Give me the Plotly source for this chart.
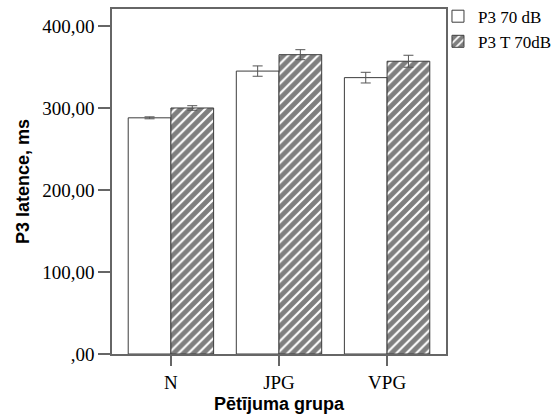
import plotly.graph_objects as go

# P3 latency (ms) by study group, two stimulus conditions, mean ± error
groups = ["N", "JPG", "VPG"]
p3_70 = [288, 345, 337]
p3_70_err = [1.2, 6.3, 6.5]
p3_t70 = [300, 365, 357]
p3_t70_err = [2.8, 6.1, 7.3]

y_tickvals = [0, 100, 200, 300, 400]
y_ticktext = [",00", "100,00", "200,00", "300,00", "400,00"]

serif = "Liberation Serif, Times New Roman, serif"
sans = "Liberation Sans, Arial, sans-serif"
edge = "#3c3c3c"
axis_col = "#666666"

fig = go.Figure()
fig.add_trace(go.Bar(
    name="P3 70 dB",
    x=groups, y=p3_70,
    marker=dict(color="white", line=dict(color=edge, width=1)),
    error_y=dict(type="data", array=p3_70_err, color="#555555", thickness=1, width=5),
))
fig.add_trace(go.Bar(
    name="P3 T 70dB",
    x=groups, y=p3_t70,
    marker=dict(
        color="white",
        line=dict(color=edge, width=1),
        pattern=dict(shape="/", fgcolor="black", bgcolor="white", size=7, solidity=0.7),
    ),
    error_y=dict(type="data", array=p3_t70_err, color="#555555", thickness=1, width=5),
))

fig.update_layout(
    width=555, height=414,
    margin=dict(l=112, r=109, t=9, b=60, autoexpand=False),
    paper_bgcolor="white", plot_bgcolor="white",
    barmode="group", bargap=0.21, bargroupgap=0,
    showlegend=True,
    legend=dict(
        x=0.976, xanchor="left", y=1.03, yanchor="top",
        font=dict(family=serif, size=17, color="black"),
        bgcolor="rgba(0,0,0,0)", borderwidth=0,
        tracegroupgap=0, itemwidth=30,
    ),
    font=dict(family=serif, color="black"),
)

fig.update_xaxes(
    type="category",
    range=[-0.545, 2.545],
    automargin=False,
    showline=True, linecolor=axis_col, linewidth=1.5, mirror=True,
    ticks="outside", ticklen=10, tickcolor=axis_col, tickwidth=1.5,
    tickfont=dict(family=serif, size=19, color="black"),
    showgrid=False, zeroline=False,
    title=dict(text="<b>Pētījuma grupa</b>", font=dict(family=sans, size=18, color="black"), standoff=8),
)
fig.update_yaxes(
    range=[0, 420.7],
    automargin=False,
    tickvals=y_tickvals, ticktext=y_ticktext,
    showline=True, linecolor=axis_col, linewidth=1.5, mirror=True,
    ticks="outside", ticklen=12, tickcolor=axis_col, tickwidth=1.5,
    tickfont=dict(family=serif, size=19, color="black"),
    showgrid=False, zeroline=False,
    title=dict(text="<b>P3 latence, ms</b>", font=dict(family=sans, size=18, color="black"), standoff=8),
)

fig.write_html("out.html")
